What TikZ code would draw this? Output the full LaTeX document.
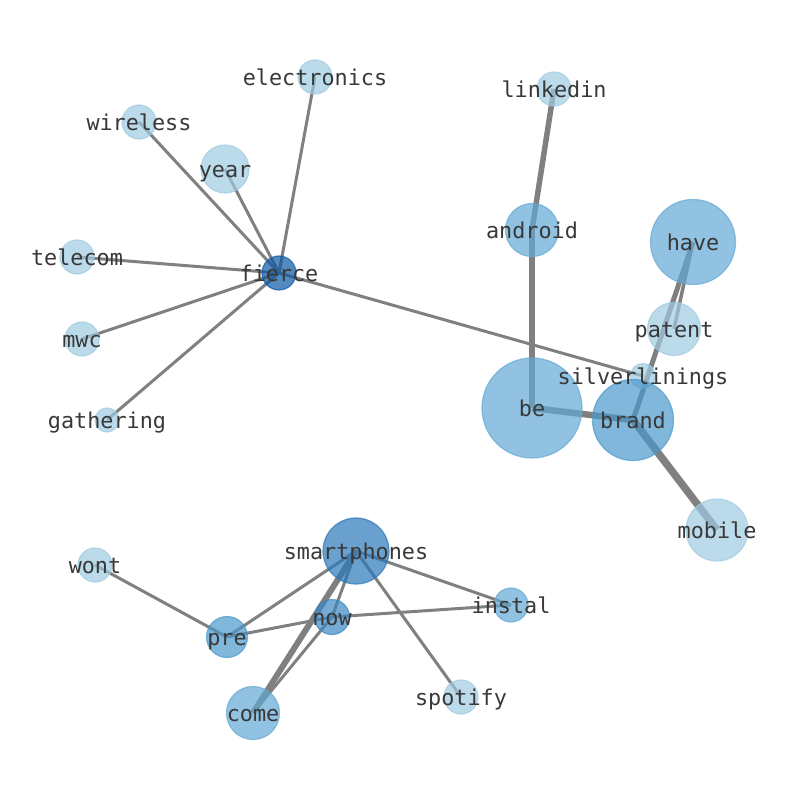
\documentclass[tikz,border=0pt]{standalone}
\usepackage{fontspec}
\setmonofont{DejaVu Sans Mono}
\usetikzlibrary{backgrounds}
\definecolor{cA}{HTML}{9ECAE1}
\definecolor{cB}{HTML}{62A8D4}
\definecolor{cC}{HTML}{4A98CB}
\definecolor{cD}{HTML}{3A88C2}
\definecolor{cE}{HTML}{2A78B8}
\definecolor{cF}{HTML}{0A58A4}
\definecolor{edgegray}{HTML}{808080}
\definecolor{txt}{HTML}{383838}
\tikzset{
  nd/.style={circle, inner sep=0pt, fill opacity=0.7, draw opacity=0.7, line width=1.2pt},
  lbl/.style={inner sep=0pt, text=txt, text height=17pt, text depth=0pt, font=\ttfamily\fontsize{21.8}{26}\selectfont},
  ed/.style={draw=edgegray, line width=#1},
  ed/.default=3pt
}
\begin{document}
\begin{tikzpicture}[x=1pt,y=1pt]
\useasboundingbox (0,0) rectangle (794,790);
% nodes (centre x, 790 - y)
\node[nd, fill=cA, draw=cA, minimum size=34pt] (electronics) at (315,713) {};
\node[nd, fill=cA, draw=cA, minimum size=34pt] (wireless) at (139,668) {};
\node[nd, fill=cA, draw=cA, minimum size=48pt] (year) at (225,621) {};
\node[nd, fill=cA, draw=cA, minimum size=34pt] (telecom) at (77,533) {};
\node[nd, fill=cF, draw=cF, minimum size=34pt] (fierce) at (279,517) {};
\node[nd, fill=cA, draw=cA, minimum size=34pt] (mwc) at (82,451) {};
\node[nd, fill=cA, draw=cA, minimum size=24pt] (gathering) at (107,370) {};
\node[nd, fill=cA, draw=cA, minimum size=34pt] (linkedin) at (554,701) {};
\node[nd, fill=cB, draw=cB, minimum size=53pt] (android) at (532,560) {};
\node[nd, fill=cB, draw=cB, minimum size=85pt] (have) at (693,548) {};
\node[nd, fill=cA, draw=cA, minimum size=53pt] (patent) at (674,461) {};
\node[nd, fill=cA, draw=cA, minimum size=25pt] (silverlinings) at (643,414) {};
\node[nd, fill=cB, draw=cB, minimum size=100pt] (be) at (532,382) {};
\node[nd, fill=cC, draw=cC, minimum size=81pt] (brand) at (633,370) {};
\node[nd, fill=cA, draw=cA, minimum size=62pt] (mobile) at (717,260) {};
\node[nd, fill=cE, draw=cE, minimum size=66pt] (smartphones) at (356,239) {};
\node[nd, fill=cA, draw=cA, minimum size=34pt] (wont) at (95,225) {};
\node[nd, fill=cC, draw=cC, minimum size=41pt] (pre) at (227,153) {};
\node[nd, fill=cD, draw=cD, minimum size=35pt] (now) at (332,173) {};
\node[nd, fill=cB, draw=cB, minimum size=34pt] (instal) at (511,185) {};
\node[nd, fill=cA, draw=cA, minimum size=34pt] (spotify) at (461,93) {};
\node[nd, fill=cB, draw=cB, minimum size=53pt] (come) at (253,77) {};
% edges
\begin{pgfonlayer}{background}
\draw[ed] (fierce.center) -- (electronics.center);
\draw[ed] (fierce.center) -- (wireless.center);
\draw[ed] (fierce.center) -- (year.center);
\draw[ed] (fierce.center) -- (telecom.center);
\draw[ed] (fierce.center) -- (mwc.center);
\draw[ed] (fierce.center) -- (gathering.center);
\draw[ed] (fierce.center) -- (silverlinings.center);
\draw[ed=5.5pt] (linkedin.center) -- (android.center);
\draw[ed=5.5pt] (android.center) -- (be.center);
\draw[ed=6.5pt] (be.center) -- (brand.center);
\draw[ed=5pt] (have.center) -- (brand.center);
\draw[ed=3.5pt] (have.center) -- (patent.center);
\draw[ed=7.5pt] (brand.center) -- (mobile.center);
\draw[ed] (smartphones.center) -- (pre.center);
\draw[ed] (smartphones.center) -- (now.center);
\draw[ed=6pt] (smartphones.center) -- (come.center);
\draw[ed] (smartphones.center) -- (instal.center);
\draw[ed] (smartphones.center) -- (spotify.center);
\draw[ed] (pre.center) -- (wont.center);
\draw[ed] (pre.center) -- (now.center);
\draw[ed] (now.center) -- (instal.center);
\draw[ed] (now.center) -- (come.center);
\end{pgfonlayer}
% labels
\foreach \n in {electronics,wireless,year,telecom,fierce,mwc,gathering,linkedin,android,have,patent,silverlinings,be,brand,mobile,smartphones,wont,pre,now,instal,spotify,come}
  \node[lbl] (\n-t) at (\n.center) {\n};
\end{tikzpicture}
\end{document}
